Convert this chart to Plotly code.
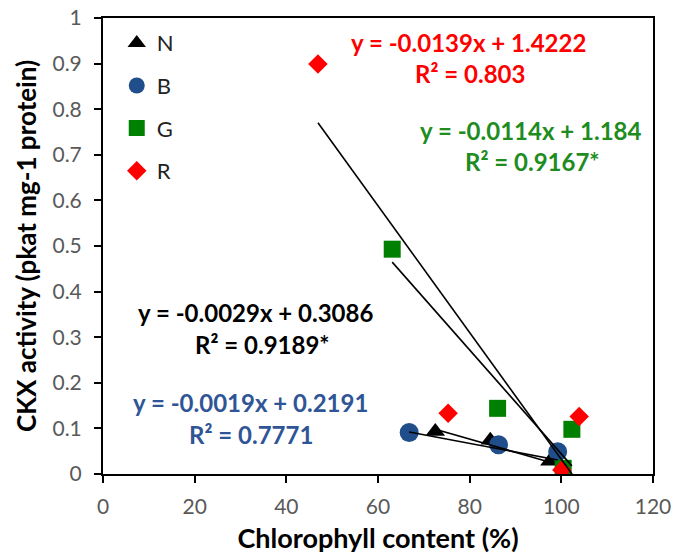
import plotly.graph_objects as go

# ---- data ----
series_names = ["N", "B", "G", "R"]
N_x = [72.5, 84.5, 97.5]
N_y = [0.093, 0.074, 0.028]
B_x = [66.8, 86.3, 99.2]
B_y = [0.091, 0.064, 0.049]
G_x = [63.1, 86.1, 100.4, 102.3]
G_y = [0.493, 0.144, 0.0125, 0.098]
R_x = [46.9, 75.3, 100.1, 103.9]
R_y = [0.899, 0.133, 0.009, 0.126]

# linear trendline coefficients (as printed on the chart)
slopes = [-0.0029, -0.0019, -0.0114, -0.0139]
intercepts = [0.3086, 0.2191, 1.184, 1.4222]
r2_labels = ["0.9189*", "0.7771", "0.9167*", "0.803"]

x_ticks = [0, 20, 40, 60, 80, 100, 120]
y_ticks = [0, 0.1, 0.2, 0.3, 0.4, 0.5, 0.6, 0.7, 0.8, 0.9, 1]

xs = [N_x, B_x, G_x, R_x]
ys = [N_y, B_y, G_y, R_y]
colors = ["#000000", "#1F4E8A", "#008000", "#FF0000"]
text_colors = ["#000000", "#2F5597", "#1E8C1E", "#FF0000"]
symbols = ["triangle-up", "circle", "square", "diamond"]
sizes = [17, 19, 17, 15]

FONT = "Lato"
W, H = 674, 554
ML, MR, MT, MB = 103, 21, 18, 80

fig = go.Figure()

for i, name in enumerate(series_names):
    fig.add_trace(go.Scatter(
        x=xs[i], y=ys[i], mode="markers", name=name,
        legendgroup=name,
        marker=dict(symbol=symbols[i], size=sizes[i], color=colors[i],
                    line=dict(width=0)),
    ))

for i, name in enumerate(series_names):
    x0, x1 = min(xs[i]), max(xs[i])
    fig.add_trace(go.Scatter(
        x=[x0, x1],
        y=[slopes[i] * x0 + intercepts[i], slopes[i] * x1 + intercepts[i]],
        mode="lines", line=dict(color="black", width=1.6),
        showlegend=False, hoverinfo="skip",
    ))

# equation annotation centres, in figure pixels
eq_pos = [(255, 312, 262, 344), (250, 402, 251, 434), (530, 130, 532, 161), (468, 42, 470, 73)]

def to_paper(px, py):
    pw = W - ML - MR
    ph = H - MT - MB
    return (px - ML) / pw, (H - MB - py) / ph

for i in range(4):
    ex, ey, rx, ry = eq_pos[i]
    eq = f"y = {slopes[i]}x + {intercepts[i]}"
    for (px, py, txt) in [(ex, ey, eq), (rx, ry, f"R² = {r2_labels[i]}")]:
        ax, ay = to_paper(px, py)
        fig.add_annotation(
            x=ax, y=ay, xref="paper", yref="paper",
            text=f"<b>{txt}</b>", showarrow=False,
            xanchor="center", yanchor="middle",
            font=dict(family=FONT, size=24, color=text_colors[i]),
        )

fig.update_layout(
    width=W, height=H,
    margin=dict(l=ML, r=MR, t=MT, b=MB, autoexpand=False),
    plot_bgcolor="white", paper_bgcolor="white",
    font=dict(family=FONT),
    showlegend=True,
    legend=dict(
        x=0.025, y=0.991, xanchor="left", yanchor="top",
        font=dict(family=FONT, size=22, color="#222222"),
        bgcolor="rgba(0,0,0,0)", tracegroupgap=11,
        itemwidth=30,
    ),
    xaxis=dict(
        range=[0, 120], tickvals=x_ticks, ticktext=[str(v) for v in x_ticks],
        showgrid=False, zeroline=False, automargin=False,
        showline=True, linecolor="black", linewidth=2, mirror=True,
        ticks="outside", ticklen=7, tickwidth=2, tickcolor="black",
        ticklabelstandoff=6,
        tickfont=dict(family=FONT, size=21, color="#595959"),
        title=dict(text="<b>Chlorophyll content (%)</b>",
                   font=dict(family=FONT, size=27, color="black"), standoff=12),
    ),
    yaxis=dict(
        range=[0, 1], tickvals=y_ticks, ticktext=[f"{v:g}" for v in y_ticks],
        showgrid=False, zeroline=False, automargin=False,
        showline=True, linecolor="black", linewidth=2, mirror=True,
        ticks="outside", ticklen=7, tickwidth=2, tickcolor="black",
        ticklabelstandoff=8,
        tickfont=dict(family=FONT, size=21, color="#595959"),
        title=dict(text="<b>CKX activity (pkat mg-1 protein)</b>",
                   font=dict(family=FONT, size=26, color="black"), standoff=8),
    ),
)

fig.write_html("out.html")
